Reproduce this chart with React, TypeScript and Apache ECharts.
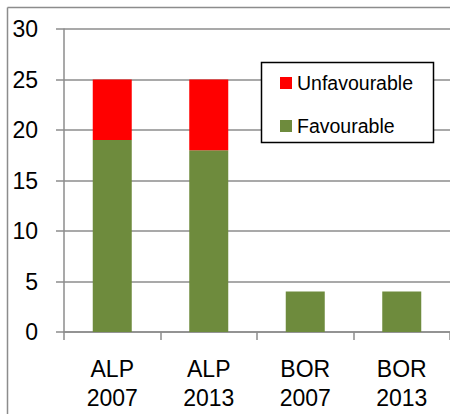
import React, { useEffect, useRef } from "react";
import * as echarts from "echarts";

const categories = ["ALP\n2007", "ALP\n2013", "BOR\n2007", "BOR\n2013"];
const favourable = [19, 18, 4, 4];
const unfavourable = [6, 7, 0, 0];
const yTicks = { min: 0, max: 30, interval: 5 };

const FONT = "'Liberation Sans', Arial, sans-serif";
const GRID_COLOR = "#8c8c8c";

export default function App() {
  const ref = useRef<HTMLDivElement>(null);
  useEffect(() => {
    if (!ref.current) return;
    const chart = echarts.init(ref.current, null, { renderer: "svg" });
    chart.setOption({
      animation: false,
      backgroundColor: "#ffffff",
      textStyle: { fontFamily: FONT },
      grid: { left: 64, top: 29, width: 392, height: 303, containLabel: false },
      graphic: [
        {
          type: "line",
          z: 1,
          shape: { x1: 7.5, y1: 7.5, x2: 7.5, y2: 414 },
          style: { stroke: GRID_COLOR, lineWidth: 1.5 },
        },
        {
          type: "line",
          z: 1,
          shape: { x1: 7.5, y1: 7.5, x2: 450, y2: 7.5 },
          style: { stroke: GRID_COLOR, lineWidth: 1.5 },
        },
        {
          type: "rect",
          z: 50,
          zlevel: 0,
          shape: { x: 261.5, y: 62.5, width: 172, height: 80 },
          style: { fill: "#ffffff", stroke: "#000000", lineWidth: 1.5 },
        },
      ],
      legend: {
        z: 60,
        orient: "vertical",
        left: 261,
        top: 62,
        padding: [11, 20, 11, 19],
        itemWidth: 12,
        itemHeight: 12,
        itemGap: 23,
        icon: "rect",
        data: ["Unfavourable", "Favourable"],
        textStyle: { fontSize: 19.5, color: "#000000", fontFamily: FONT, lineHeight: 18 },
      },
      xAxis: {
        type: "category",
        data: categories,
        axisLine: { show: true, lineStyle: { color: GRID_COLOR, width: 1.5 } },
        axisTick: { show: true, length: 8, lineStyle: { color: GRID_COLOR, width: 1.5 } },
        axisLabel: {
          fontSize: 23,
          lineHeight: 29.5,
          color: "#000000",
          margin: 22,
          fontFamily: FONT,
        },
      },
      yAxis: {
        type: "value",
        min: yTicks.min,
        max: yTicks.max,
        interval: yTicks.interval,
        axisLine: { show: true, lineStyle: { color: GRID_COLOR, width: 1.5 } },
        axisTick: { show: true, length: 8, lineStyle: { color: GRID_COLOR, width: 1.5 } },
        splitLine: { show: true, lineStyle: { color: GRID_COLOR, width: 1.5 } },
        axisLabel: { fontSize: 23, color: "#000000", margin: 26, fontFamily: FONT },
      },
      series: [
        {
          name: "Favourable",
          type: "bar",
          stack: "total",
          barWidth: 39,
          data: favourable,
          itemStyle: { color: "#6E8B3D" },
        },
        {
          name: "Unfavourable",
          type: "bar",
          stack: "total",
          barWidth: 39,
          data: unfavourable,
          itemStyle: { color: "#FF0000" },
        },
      ],
    });
    return () => chart.dispose();
  }, []);
  return (
    <div
      ref={ref}
      style={{ position: "absolute", left: 0, top: 0, width: 450, height: 414 }}
    />
  );
}
